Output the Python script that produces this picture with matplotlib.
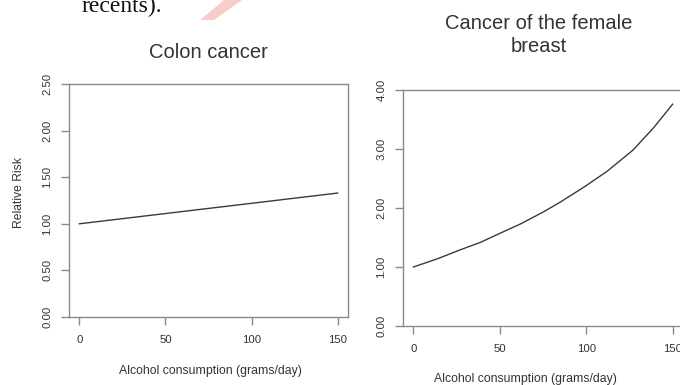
import matplotlib
matplotlib.use("Agg")
import matplotlib.pyplot as plt
from matplotlib.patches import Polygon

plt.rcParams['font.family'] = ['Liberation Sans', 'DejaVu Sans']

# Data
colon_x = [0, 75, 150]
colon_rr = [1.00, 1.165, 1.33]
breast_x = [0, 14, 27, 39, 50, 62, 75, 85, 99, 112, 127, 139, 150]
breast_rr = [1.00, 1.14, 1.29, 1.42, 1.57, 1.73, 1.93, 2.10, 2.36, 2.62, 2.98, 3.36, 3.76]

x_ticks = [0, 50, 100, 150]
colon_yticks = [0, 0.5, 1.0, 1.5, 2.0, 2.5]
colon_ylabels = ["0.00", "0.50", "1.00", "1.50", "2.00", "2.50"]
breast_yticks = [0, 1, 2, 3, 4]
breast_ylabels = ["0.00", "1.00", "2.00", "3.00", "4.00"]

W, H = 680, 385
fig = plt.figure(figsize=(W / 100, H / 100), dpi=100)
fig.patch.set_facecolor('white')

spine_col = '#8a8a8a'
line_col = '#3a3a3a'
txt_col = '#333333'


def style(ax, yt, yl):
    for s in ax.spines.values():
        s.set_color(spine_col)
        s.set_linewidth(1.0)
    ax.set_xticks(x_ticks)
    ax.set_xticklabels([str(v) for v in x_ticks])
    ax.set_yticks(yt)
    ax.set_yticklabels(yl, rotation=90, va='center')
    ax.tick_params(direction='out', length=6, width=1.0, color=spine_col,
                   labelsize=8.2, labelcolor=txt_col)
    ax.tick_params(axis='x', pad=7)
    ax.tick_params(axis='y', pad=6)


ax1 = fig.add_axes([69 / W, 1 - 317 / H, 279 / W, 233 / H])
ax1.plot(colon_x, colon_rr, color=line_col, lw=1.0)
ax1.set_xlim(-6, 156)
ax1.set_ylim(0, 2.5)
style(ax1, colon_yticks, colon_ylabels)

ax2 = fig.add_axes([403 / W, 1 - 326 / H, 280 / W, 236 / H])
ax2.plot(breast_x, breast_rr, color=line_col, lw=1.0)
ax2.set_xlim(-6, 156)
ax2.set_ylim(0, 4)
style(ax2, breast_yticks, breast_ylabels)

# Titles and labels
fig.text(208 / W, 1 - 52 / H, "Colon cancer", ha='center', va='center',
         fontsize=14.5, color=txt_col)
fig.text(539 / W, 1 - 35 / H, "Cancer of the female\nbreast", ha='center',
         va='center', fontsize=14.5, color=txt_col, linespacing=1.3)
fig.text(210 / W, 1 - 371 / H, "Alcohol consumption (grams/day)", ha='center',
         va='center', fontsize=8.8, color=txt_col)
fig.text(525 / W, 1 - 379 / H, "Alcohol consumption (grams/day)", ha='center',
         va='center', fontsize=8.8, color=txt_col)
fig.text(19 / W, 1 - 193 / H, "Relative Risk", ha='center', va='center',
         rotation=90, fontsize=8.7, color=txt_col)

# Cut-off text from surrounding page
fig.text(81 / W, 1 - 12 / H, "recents).", ha='left', va='baseline',
         fontsize=17, family=['Liberation Serif', 'DejaVu Serif'], color='#111111')

# Faint red watermark slash
fig.patches.append(Polygon([(224 / W, 1.0), (242 / W, 1.0), (214 / W, 1 - 20 / H),
                            (200 / W, 1 - 20 / H)], closed=True,
                           transform=fig.transFigure, facecolor='#f07060',
                           alpha=0.35, edgecolor='none'))

fig.savefig("out.png", dpi=100, facecolor='white')
